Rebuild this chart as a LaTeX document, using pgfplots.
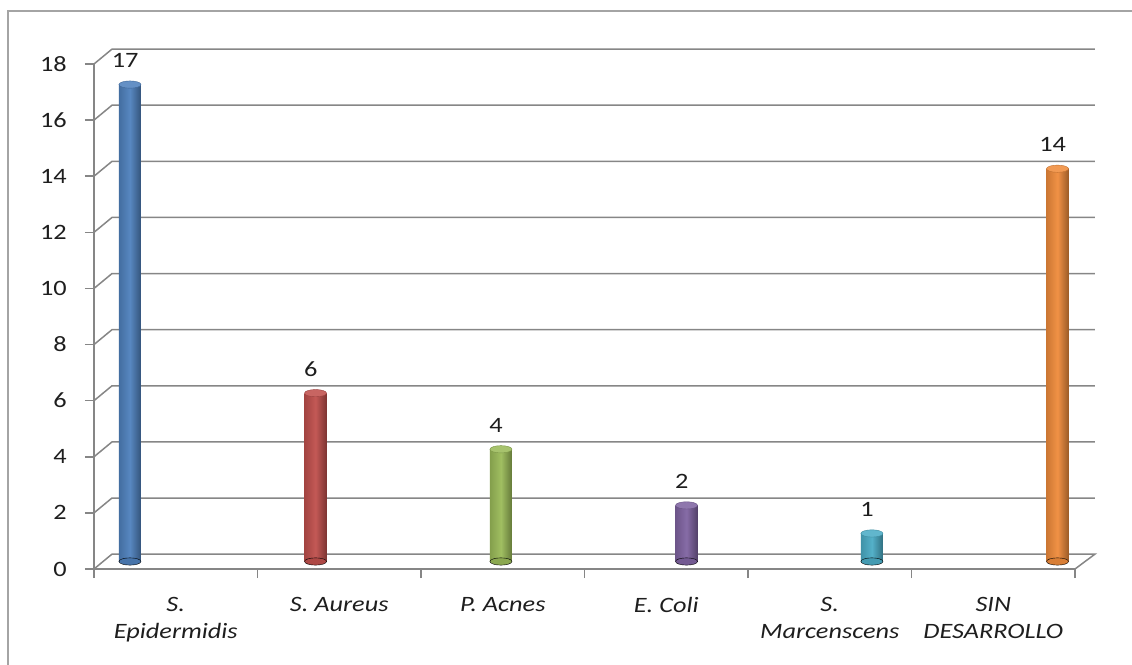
\documentclass[border=0pt]{standalone}
\usepackage{pgfplots}
\pgfplotsset{compat=1.18}
\usepackage{fontspec}
\setmainfont{Carlito}

\definecolor{framegray}{RGB}{134,134,134}
\definecolor{txt}{RGB}{30,30,30}
\definecolor{cblue}{RGB}{79,129,189}
\definecolor{cred}{RGB}{192,80,77}
\definecolor{cgreen}{RGB}{155,187,89}
\definecolor{cpurple}{RGB}{128,100,162}
\definecolor{caqua}{RGB}{75,172,198}
\definecolor{corange}{RGB}{240,140,60}

\newcommand{\lblfont}{\fontsize{22}{27}\selectfont}

\pgfplotsset{
  wallaxis/.style={scale only axis, width=981bp, height=505bp,
    xmin=0, xmax=6, ymin=0, ymax=18, clip=false},
  wall/.style={framegray, line width=1.5bp, forget plot},
  cyl/.style={ybar, bar width=22bp, bar shift=0pt, draw=none,
    left color=#1!85!black, right color=#1!65!black, middle color=#1!95!white},
  cylbase/.style={only marks, mark=*, mark size=11bp,
    mark options={yscale=0.33, draw=none, fill=#1!90!black}},
  cyltop/.style={only marks, mark=*, mark size=11bp,
    mark options={yscale=0.33, fill=#1!88!white, draw=#1!80!black, line width=0.4bp},
    nodes near coords,
    nodes near coords style={font=\lblfont, xscale=1.2, text=txt,
      anchor=base, inner sep=0pt, yshift=17bp, xshift=-4bp},
    /pgf/number format/assume math mode=true},
}

\begin{document}
\begin{tikzpicture}
\useasboundingbox (0,0) rectangle (1132bp,665bp);
\draw[framegray!75, line width=2bp] (8bp,0) -- (8bp,654bp) -- (1132bp,654bp);

% front frame, ticks and back wall gridlines
\begin{axis}[wallaxis, at={(94bp,96bp)}, anchor=south west,
  axis x line*=bottom, axis y line*=left,
  axis line style={framegray, line width=1.5bp, -},
  tick style={framegray, line width=1.5bp},
  tick align=outside, major tick length=9bp,
  ytick={0,2,...,18}, xtick={0,...,6}, xticklabels={},
  /pgf/number format/assume math mode=true,
  yticklabel style={font=\lblfont, text=txt, xscale=1.2, anchor=east, inner sep=0pt, xshift=-15bp},
  extra x ticks={0.5,1.5,2.5,3.5,4.5,5.5},
  extra x tick labels={{S.\\Epidermidis},{S. Aureus},{P. Acnes},{E. Coli},{S.\\Marcenscens},{SIN\\DESARROLLO}},
  extra x tick style={major tick length=0pt,
    xticklabel style={font=\lblfont\itshape, text=txt, xscale=1.2, align=center,
      anchor=north, inner sep=0pt, yshift=-28bp}},
]
\addplot[wall] coordinates {(0,0) (0.110,0.53) (6.122,0.53) (6,0)};
\addplot[wall] coordinates {(0,2) (0.110,2.53) (6.122,2.53)};
\addplot[wall] coordinates {(0,4) (0.110,4.53) (6.122,4.53)};
\addplot[wall] coordinates {(0,6) (0.110,6.53) (6.122,6.53)};
\addplot[wall] coordinates {(0,8) (0.110,8.53) (6.122,8.53)};
\addplot[wall] coordinates {(0,10) (0.110,10.53) (6.122,10.53)};
\addplot[wall] coordinates {(0,12) (0.110,12.53) (6.122,12.53)};
\addplot[wall] coordinates {(0,14) (0.110,14.53) (6.122,14.53)};
\addplot[wall] coordinates {(0,16) (0.110,16.53) (6.122,16.53)};
\addplot[wall] coordinates {(0,18) (0.110,18.53) (6.122,18.53)};
\end{axis}

% cylinders, set half a bar depth behind the front frame
\begin{axis}[wallaxis, at={(102.5bp,103.5bp)}, anchor=south west, hide axis]
\addplot[cylbase=cblue] coordinates {(0.168,0)};
\addplot[cyl=cblue] coordinates {(0.168,17)};
\addplot[cyltop=cblue] coordinates {(0.168,17)};

\addplot[cylbase=cred] coordinates {(1.303,0)};
\addplot[cyl=cred] coordinates {(1.303,6)};
\addplot[cyltop=cred] coordinates {(1.303,6)};

\addplot[cylbase=cgreen] coordinates {(2.437,0)};
\addplot[cyl=cgreen] coordinates {(2.437,4)};
\addplot[cyltop=cgreen] coordinates {(2.437,4)};

\addplot[cylbase=cpurple] coordinates {(3.572,0)};
\addplot[cyl=cpurple] coordinates {(3.572,2)};
\addplot[cyltop=cpurple] coordinates {(3.572,2)};

\addplot[cylbase=caqua] coordinates {(4.706,0)};
\addplot[cyl=caqua] coordinates {(4.706,1)};
\addplot[cyltop=caqua] coordinates {(4.706,1)};

\addplot[cylbase=corange] coordinates {(5.841,0)};
\addplot[cyl=corange] coordinates {(5.841,14)};
\addplot[cyltop=corange] coordinates {(5.841,14)};
\end{axis}
\end{tikzpicture}
\end{document}
